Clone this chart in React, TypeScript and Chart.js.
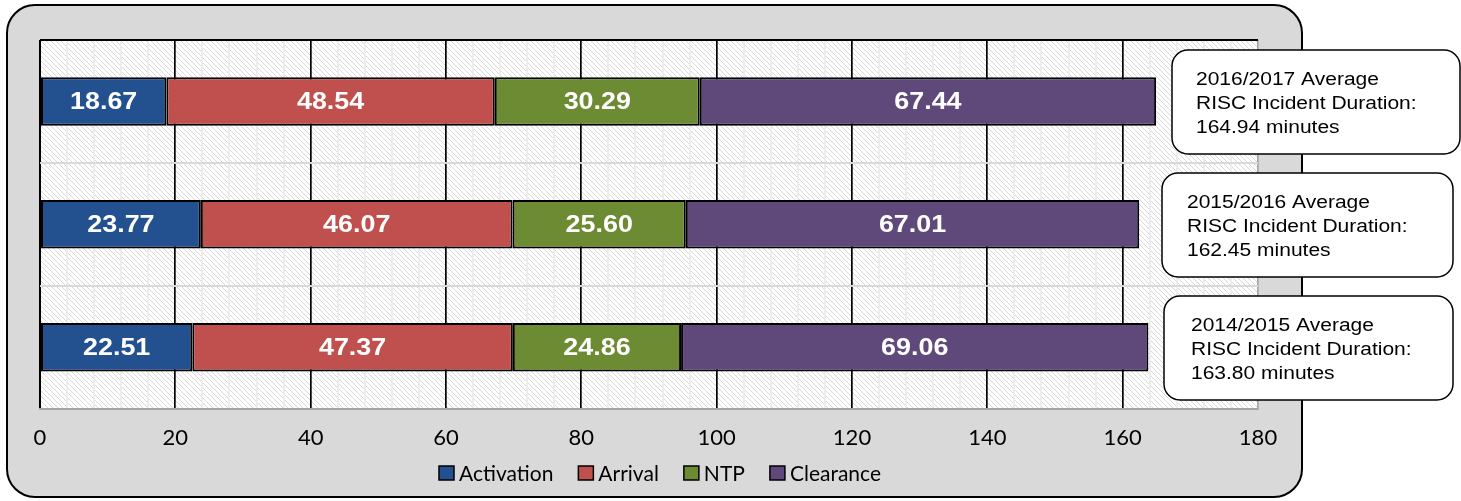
import React, { useEffect, useRef } from 'react';
import { Chart, registerables } from 'chart.js';

Chart.register(...registerables);

// ---- data ----
const categories = ['2016/2017', '2015/2016', '2014/2015'];
const activation = [18.67, 23.77, 22.51];
const arrival = [48.54, 46.07, 47.37];
const ntp = [30.29, 25.6, 24.86];
const clearance = [67.44, 67.01, 69.06];
const totals = [164.94, 162.45, 163.8];
const seriesNames = ['Activation', 'Arrival', 'NTP', 'Clearance'];
const seriesColors = ['#23508f', '#c0504d', '#6d8b33', '#5f497a'];
const xMin = 0;
const xMax = 180;
const xStep = 20;
const minorStep = 4;

// ---- style / layout constants ----
const W = 1461;
const H = 501;
const boxLefts = [1172, 1162, 1164];
const boxWidths = [288, 291, 289];
const boxHeight = 104;
const textInset = [24, 25, 27];
const legendCenterX = 660;
const legendCenterY = 473;

function makeHatch(): CanvasPattern | string {
  const c = document.createElement('canvas');
  const n = 5;
  c.width = n;
  c.height = n;
  const g = c.getContext('2d');
  if (!g) return '#eee';
  g.fillStyle = '#ffffff';
  g.fillRect(0, 0, n, n);
  g.fillStyle = '#d9d9d9';
  for (let i = 0; i < n; i++) g.fillRect(i, i, 1, 1);
  const ctx = document.createElement('canvas').getContext('2d');
  return (ctx && ctx.createPattern(c, 'repeat')) || '#eee';
}

function roundRect(ctx: CanvasRenderingContext2D, x: number, y: number, w: number, h: number, r: number) {
  ctx.beginPath();
  ctx.moveTo(x + r, y);
  ctx.lineTo(x + w - r, y);
  ctx.arcTo(x + w, y, x + w, y + r, r);
  ctx.lineTo(x + w, y + h - r);
  ctx.arcTo(x + w, y + h, x + w - r, y + h, r);
  ctx.lineTo(x + r, y + h);
  ctx.arcTo(x, y + h, x, y + h - r, r);
  ctx.lineTo(x, y + r);
  ctx.arcTo(x, y, x + r, y, r);
  ctx.closePath();
}

const framePlugin = {
  id: 'frame',
  beforeDraw(chart: any) {
    const ctx: CanvasRenderingContext2D = chart.ctx;
    const { left, right, top, bottom } = chart.chartArea;
    ctx.save();
    ctx.fillStyle = '#ffffff';
    ctx.fillRect(0, 0, chart.width, chart.height);
    roundRect(ctx, 7, 5, 1295, 492, 28);
    ctx.fillStyle = '#d9d9d9';
    ctx.fill();
    ctx.lineWidth = 2;
    ctx.strokeStyle = '#000';
    ctx.stroke();
    // plot background hatch
    ctx.fillStyle = '#ffffff';
    ctx.fillRect(left, top, right - left, bottom - top);
    const pat = makeHatch();
    ctx.fillStyle = pat as any;
    ctx.fillRect(left, top, right - left, bottom - top);
    // minor vertical gridlines
    const xs = chart.scales.x;
    ctx.strokeStyle = '#ededed';
    ctx.lineWidth = 2;
    for (let v = xMin + minorStep; v < xMax; v += minorStep) {
      if (v % xStep === 0) continue;
      const px = Math.round(xs.getPixelForValue(v));
      ctx.beginPath();
      ctx.moveTo(px, top);
      ctx.lineTo(px, bottom);
      ctx.stroke();
    }
    ctx.restore();
  },
  afterDatasetsDraw(chart: any) {
    const ctx: CanvasRenderingContext2D = chart.ctx;
    ctx.save();
    ctx.fillStyle = '#ffffff';
    ctx.textAlign = 'center';
    ctx.textBaseline = 'middle';
    ctx.font = 'bold 24px Arial, "Liberation Sans", sans-serif';
    chart.data.datasets.forEach((ds: any, di: number) => {
      const meta = chart.getDatasetMeta(di);
      meta.data.forEach((el: any, i: number) => {
        const p = el.getProps(['x', 'base', 'y'], true);
        const cx = (p.x + p.base) / 2;
        ctx.save();
        ctx.translate(cx, p.y + 1);
        ctx.scale(1.12, 1);
        ctx.fillText(Number(ds.data[i]).toFixed(2), 0, 0);
        ctx.restore();
      });
    });
    ctx.restore();
  },
  afterDraw(chart: any) {
    const ctx: CanvasRenderingContext2D = chart.ctx;
    const ys = chart.scales.y;
    ctx.save();
    // legend
    ctx.font = '21px Lato, sans-serif';
    const boxW = 15;
    const boxH = 14;
    const gap = 5;
    const itemGap = 25;
    const widths = chart.data.datasets.map((ds: any) => boxW + gap + ctx.measureText(ds.label).width);
    const total = widths.reduce((a: number, b: number) => a + b, 0) + itemGap * (widths.length - 1);
    let lx = Math.round(legendCenterX - total / 2);
    chart.data.datasets.forEach((ds: any, k: number) => {
      ctx.fillStyle = ds.backgroundColor;
      ctx.fillRect(lx, legendCenterY - boxH / 2, boxW, boxH);
      ctx.strokeStyle = '#000';
      ctx.lineWidth = 1.5;
      ctx.strokeRect(lx, legendCenterY - boxH / 2, boxW, boxH);
      ctx.fillStyle = '#000';
      ctx.textAlign = 'left';
      ctx.textBaseline = 'middle';
      ctx.fillText(ds.label, lx + boxW + gap, legendCenterY + 1);
      lx += widths[k] + itemGap;
    });
    // annotation boxes
    categories.forEach((cat, i) => {
      const cy = ys.getPixelForValue(i);
      const x = boxLefts[i];
      const y = Math.round(cy - boxHeight / 2) + 1;
      roundRect(ctx, x, y, boxWidths[i], boxHeight, 16);
      ctx.fillStyle = '#ffffff';
      ctx.fill();
      ctx.lineWidth = 1.5;
      ctx.strokeStyle = '#000';
      ctx.stroke();
      const lines = [`${cat} Average`, 'RISC Incident Duration:', `${totals[i].toFixed(2)} minutes`];
      ctx.fillStyle = '#000';
      ctx.textAlign = 'left';
      ctx.textBaseline = 'alphabetic';
      ctx.font = '17.5px Arial, "Liberation Sans", sans-serif';
      lines.forEach((t, li) => {
        ctx.save();
        ctx.translate(x + textInset[i], y + 35 + li * 24);
        ctx.scale(1.2, 1);
        ctx.fillText(t, 0, 0);
        ctx.restore();
      });
    });
    ctx.restore();
  },
};

export default function App() {
  const ref = useRef<HTMLCanvasElement>(null);
  useEffect(() => {
    if (!ref.current) return;
    const seriesData = [activation, arrival, ntp, clearance];
    const chart = new Chart(ref.current, {
      type: 'bar',
      data: {
        labels: categories,
        datasets: seriesNames.map((name, k) => ({
          label: name,
          data: seriesData[k],
          backgroundColor: seriesColors[k],
          borderColor: '#000',
          borderWidth: 2,
          borderSkipped: false,
          barPercentage: 0.395,
          categoryPercentage: 1,
        })),
      },
      options: {
        indexAxis: 'y',
        animation: false,
        responsive: false,
        maintainAspectRatio: false,
        layout: { padding: { left: 40, top: 40, right: W - 1258, bottom: 34 } },
        plugins: {
          tooltip: { enabled: false },
          legend: { display: false },
        },
        scales: {
          x: {
            type: 'linear',
            stacked: true,
            min: xMin,
            max: xMax,
            ticks: {
              stepSize: xStep,
              color: '#000',
              font: { family: 'Lato', size: 22 },
              padding: 16,
            },
            grid: {
              drawTicks: false,
              color: (c: any) => (c.tick && c.tick.value === xMax ? '#a6a6a6' : '#000'),
              lineWidth: (c: any) => (c.tick && c.tick.value === xMin ? 2 : 1.7),
            },
            border: { display: true, color: '#a6a6a6', width: 1.5 },
          },
          y: {
            type: 'category',
            stacked: true,
            ticks: { display: false },
            grid: {
              offset: true,
              drawTicks: false,
              color: (c: any) => (c.type === 'tick' && c.index === 0 ? '#000' : c.type === 'tick' ? '#d9d9d9' : '#a6a6a6'),
              lineWidth: 2,
            },
            border: { display: false },
            afterFit: (s: any) => {
              s.width = 0;
            },
          },
        },
      },
      plugins: [framePlugin],
    });
    return () => chart.destroy();
  }, []);
  return (
    <div style={{ position: 'fixed', left: 0, top: 0, width: W, height: H, background: '#fff' }}>
      <canvas ref={ref} width={W} height={H} style={{ width: W, height: H, display: 'block' }} />
    </div>
  );
}
